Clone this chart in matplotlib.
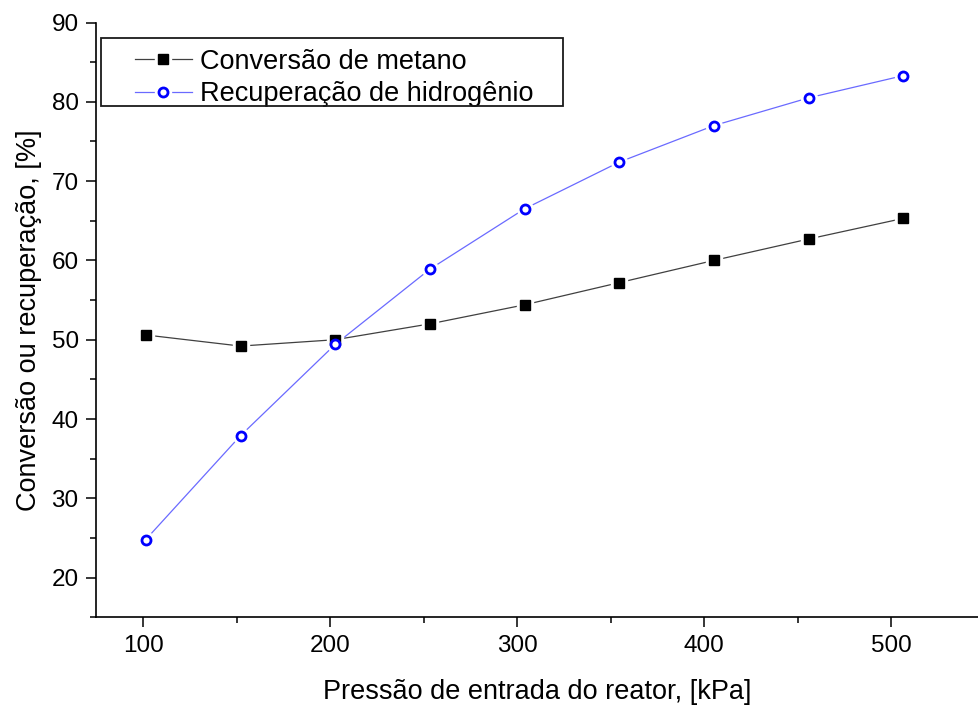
import matplotlib
matplotlib.use("Agg")
import matplotlib.pyplot as plt
from matplotlib.legend_handler import HandlerTuple
from matplotlib.patches import Rectangle
from matplotlib.transforms import IdentityTransform
from matplotlib.ticker import MultipleLocator

plt.rcParams['font.family'] = ['Liberation Sans', 'DejaVu Sans']

# Reactor inlet pressure (kPa): 1..5 atm in 0.5 atm steps
pressure = [101.3, 152.0, 202.6, 253.3, 303.9, 354.6, 405.2, 455.9, 506.5]
methane_conversion = [50.6, 49.2, 50.0, 52.0, 54.4, 57.2, 60.0, 62.7, 65.3]
hydrogen_recovery = [24.8, 37.9, 49.4, 58.9, 66.5, 72.4, 77.0, 80.5, 83.3]

label_conv = "Conversão de metano"
label_rec = "Recuperação de hidrogênio"
xlabel = "Pressão de entrada do reator, [kPa]"
ylabel = "Conversão ou recuperação, [%]"

fig = plt.figure(figsize=(9.79, 7.07), dpi=100)
ax = fig.add_axes([96 / 979, 1 - 617.3 / 707, 1 - 96 / 979, (617.3 - 22.5) / 707])


def series(x, y, color, lcolor, marker, mfc, ms, mew):
    # connecting line, a white halo that opens a gap around each symbol, symbol
    line, = ax.plot(x, y, '-', color=lcolor, lw=0.9, zorder=2)
    halo, = ax.plot(x, y, linestyle='none', marker=marker, ms=ms + 5,
                    mfc='white', mec='white', zorder=3)
    mk, = ax.plot(x, y, linestyle='none', marker=marker, ms=ms,
                  mfc=mfc, mec=color, mew=mew, zorder=4)
    return (line, halo, mk)


h1 = series(pressure, methane_conversion, 'black', '#404040', 's', 'black', 6.5, 1.0)
h2 = series(pressure, hydrogen_recovery, 'blue', '#6a6aff', 'o', 'white', 6.5, 2.0)

ax.set_xlim(74.7, 547)
ax.set_ylim(15, 90)
ax.xaxis.set_major_locator(MultipleLocator(100))
ax.xaxis.set_minor_locator(MultipleLocator(50))
ax.yaxis.set_minor_locator(MultipleLocator(5))
ax.set_yticks([20, 30, 40, 50, 60, 70, 80, 90])

for s in ['top', 'right']:
    ax.spines[s].set_visible(False)
for s in ['left', 'bottom']:
    ax.spines[s].set_linewidth(1.2)

ax.tick_params(which='major', direction='out', length=7.5, width=1.1,
               labelsize=17.5, pad=5)
ax.tick_params(which='minor', direction='out', length=4, width=1.1)

ax.set_xlabel(xlabel, fontsize=19.5, labelpad=16)
ax.set_ylabel(ylabel, fontsize=19.5, labelpad=7)

leg = ax.legend([h1, h2], [label_conv, label_rec],
                handler_map={tuple: HandlerTuple(ndivide=1, pad=0)},
                loc='center left', bbox_to_anchor=(0.0442, 0.9067),
                fontsize=19.5, numpoints=1, handlelength=2.1, handletextpad=0.3,
                borderpad=0, labelspacing=0.24, borderaxespad=0,
                frameon=False)

# Frame around the legend, with wider side margins than top/bottom
fig.canvas.draw()
bb = leg.get_window_extent(fig.canvas.get_renderer())
pad_left, pad_right, box_h, lift = 34, 29, 68, 6
cy = (bb.y0 + bb.y1) / 2 + lift
frame = Rectangle((bb.x0 - pad_left, cy - box_h / 2),
                  bb.width + pad_left + pad_right, box_h,
                  transform=IdentityTransform(), fill=False,
                  edgecolor='#1a1a1a', linewidth=1.3, zorder=5)
fig.add_artist(frame)

fig.savefig("out.png", dpi=100)
